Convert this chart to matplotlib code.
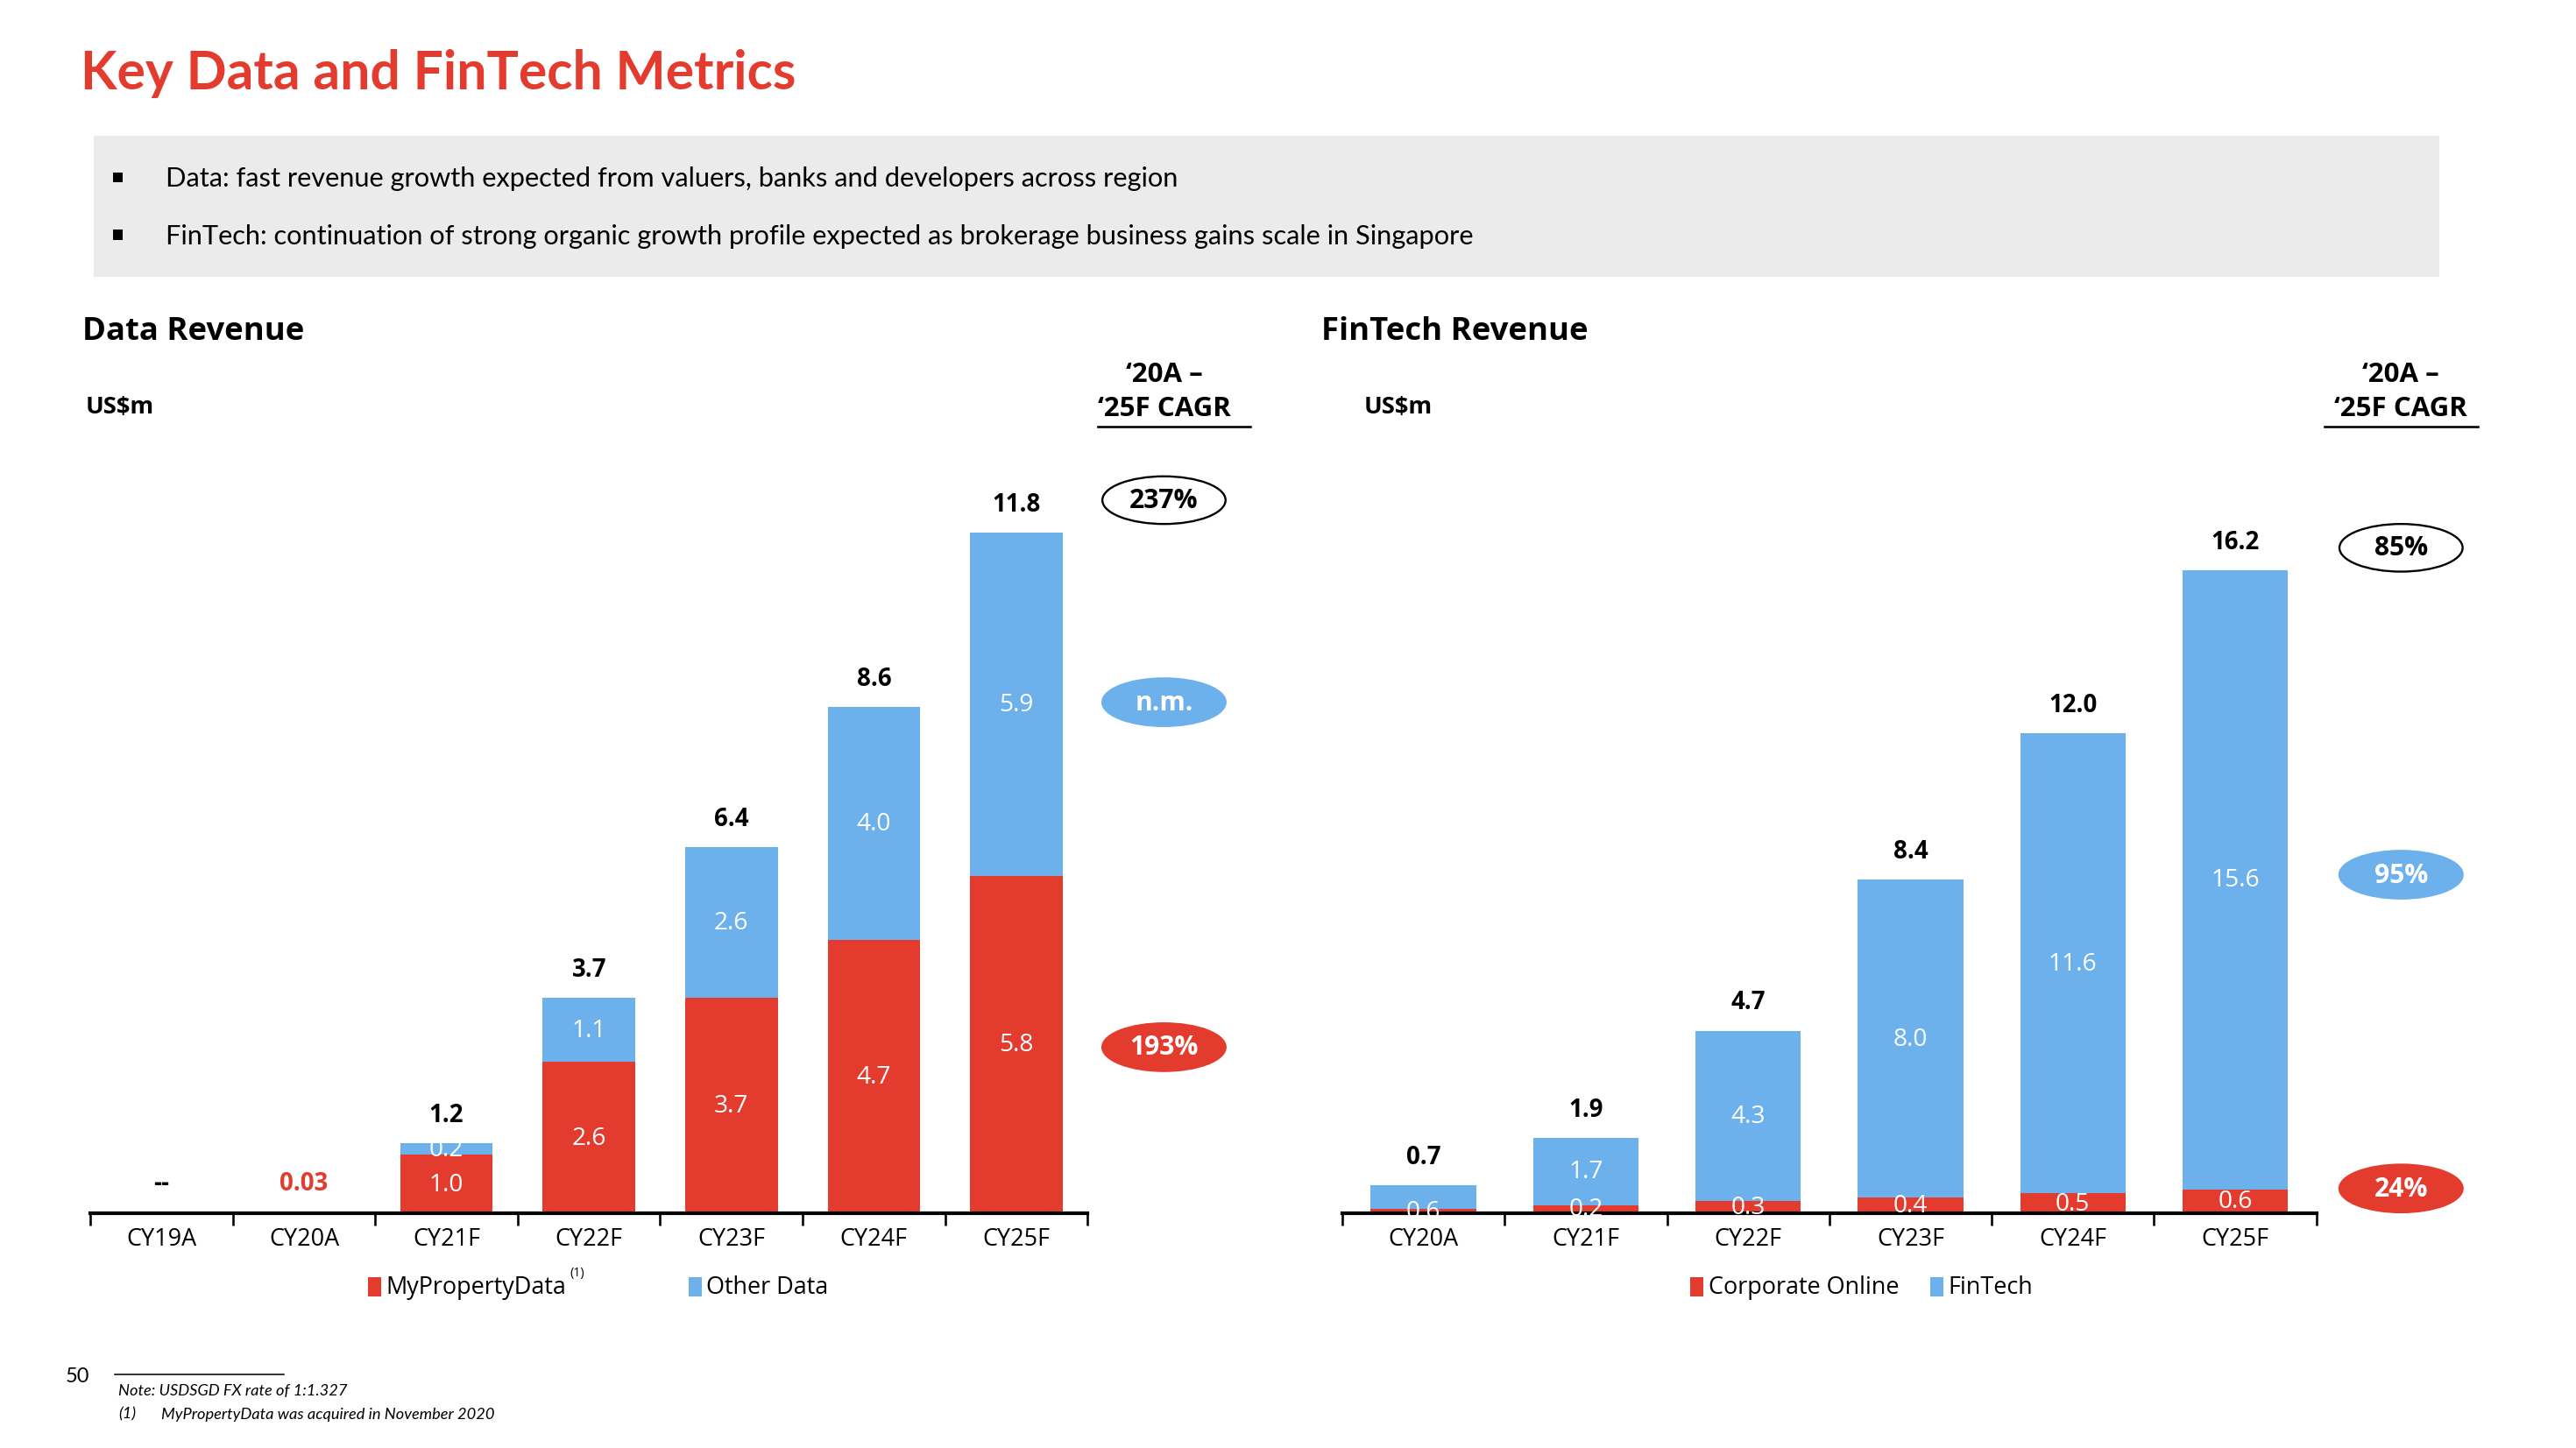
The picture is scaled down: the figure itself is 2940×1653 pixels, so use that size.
import matplotlib
matplotlib.use("Agg")
import matplotlib.pyplot as plt
from matplotlib.patches import Ellipse, Rectangle
import numpy as np

# ---------------- data ----------------
data_cats = ["CY19A", "CY20A", "CY21F", "CY22F", "CY23F", "CY24F", "CY25F"]
mypropertydata = [0.0, 0.03, 1.0, 2.6, 3.7, 4.7, 5.8]
other_data = [0.0, 0.0, 0.2, 1.1, 2.6, 4.0, 5.9]
data_totals = [None, None, 1.2, 3.7, 6.4, 8.6, 11.8]
data_cagr = ["237%", "n.m.", "193%"]

fin_cats = ["CY20A", "CY21F", "CY22F", "CY23F", "CY24F", "CY25F"]
corporate_online = [0.1, 0.2, 0.3, 0.4, 0.5, 0.6]
fintech = [0.6, 1.7, 4.3, 8.0, 11.6, 15.6]
fin_totals = [0.7, 1.9, 4.7, 8.4, 12.0, 16.2]
fin_cagr = ["85%", "95%", "24%"]

RED = "#E43B2F"
BLUE = "#6CB0EC"
GREY = "#EBEBEB"

W, H = 1568.0, 882.0
fig = plt.figure(figsize=(15.68, 8.8213), dpi=187.5)
fig.patch.set_facecolor("white")

BODY = ["Lato", "DejaVu Sans"]
CHART = ["Open Sans", "DejaVu Sans"]


def T(x, y, s, **kw):
    kw.setdefault("va", "center")
    return fig.text(x / W, 1 - y / H, s, **kw)


def fx(x):
    return x / W


def fy(y):
    return 1 - y / H


# ---------------- header ----------------
T(49, 45, "Key Data and FinTech Metrics", color=RED, fontsize=23.3,
  fontweight="bold", family=BODY, ha="left")

fig.patches.append(Rectangle((fx(57), fy(169)), (1485 - 57) / W, (169 - 83) / H,
                             transform=fig.transFigure, facecolor=GREY,
                             edgecolor="none", zorder=0))
bullets = ["Data: fast revenue growth expected from valuers, banks and developers across region",
           "FinTech: continuation of strong organic growth profile expected as brokerage business gains scale in Singapore"]
for yy, s in zip([109, 144], bullets):
    fig.patches.append(Rectangle((fx(69), fy(yy + 2.5)), 5.5 / W, 6 / H,
                                 transform=fig.transFigure, facecolor="black",
                                 edgecolor="none", zorder=2))
    T(101, yy, s, fontsize=11.8, family=BODY, ha="left", color="black")


# ---------------- chart helper ----------------
def draw_chart(left, right, top, base, cats, bottom_vals, top_vals, totals, ymax,
               small_rule):
    ax = fig.add_axes([fx(left), fy(base), (right - left) / W, (base - top) / H])
    n = len(cats)
    x = np.arange(n)
    ax.bar(x, bottom_vals, width=0.65, color=RED, zorder=2)
    ax.bar(x, top_vals, width=0.65, bottom=bottom_vals, color=BLUE, zorder=2)
    ax.set_xlim(-0.5, n - 0.5)
    ax.set_ylim(0, ymax)
    for s in ["top", "right", "left"]:
        ax.spines[s].set_visible(False)
    ax.spines["bottom"].set_linewidth(1.6)
    ax.spines["bottom"].set_zorder(3)
    ax.set_yticks([])
    ax.set_xticks(np.arange(n + 1) - 0.5)
    ax.set_xticklabels([])
    ax.tick_params(axis="x", which="major", length=5.5, width=1.0, direction="out")
    ax.set_xticks(x, minor=True)
    ax.set_xticklabels(cats, minor=True, fontsize=10.4, family=CHART)
    ax.tick_params(axis="x", which="minor", length=0, pad=6)
    ax.patch.set_alpha(0)
    for i in range(n):
        b, t = bottom_vals[i], top_vals[i]
        if t > 0:
            if t < 1.0 and small_rule:
                ax.text(i, b / 2, f"{t:.1f}", color="white", ha="center", va="center",
                        fontsize=10.8, family=CHART, zorder=4)
            else:
                ax.text(i, b + t / 2, f"{t:.1f}", color="white", ha="center", va="center",
                        fontsize=10.8, family=CHART, zorder=4)
        if b >= 0.15 and not (small_rule and t < 1.0):
            ax.text(i, b / 2, f"{b:.1f}", color="white", ha="center", va="center",
                    fontsize=10.8, family=CHART, zorder=4)
        if totals[i] is not None:
            ax.annotate(f"{totals[i]:.1f}", (i, b + t), xytext=(0, 12.5),
                        textcoords="offset points", ha="center", va="center",
                        fontsize=10.6, fontweight="bold", family=CHART)
    return ax


ax1 = draw_chart(55, 662, 290, 739, data_cats, mypropertydata, other_data,
                 data_totals, 449 / 35.4, small_rule=False)
# CY19A and CY20A labels
ax1.annotate("--", (0, 0), xytext=(0, 13), textcoords="offset points",
             ha="center", va="center", fontsize=10.6, fontweight="bold", family=CHART)
ax1.annotate(f"{mypropertydata[1]:.2f}", (1, 0), xytext=(0, 13), textcoords="offset points",
             ha="center", va="center", fontsize=10.6, fontweight="bold", family=CHART,
             color=RED)

ax2 = draw_chart(817, 1410, 290, 739, fin_cats, corporate_online, fintech,
                 fin_totals, 449 / 24.15, small_rule=True)

# ---------------- section titles ----------------
T(50, 202, "Data Revenue", fontsize=14, fontweight="bold", family=CHART, ha="left")
T(804, 202, "FinTech Revenue", fontsize=14, fontweight="bold", family=CHART, ha="left")
T(52, 248, "US$m", fontsize=10.5, fontweight="bold", family=CHART, ha="left")
T(830, 248, "US$m", fontsize=10.5, fontweight="bold", family=CHART, ha="left")


# CAGR column
def cagr_block(cx, x0, x1, vals, ys):
    T(cx, 228, "\u201820A \u2013", fontsize=12, fontweight="bold", family=CHART, ha="center")
    T(cx, 249, "\u201825F CAGR", fontsize=12, fontweight="bold", family=CHART, ha="center")
    fig.lines.append(plt.Line2D([fx(x0), fx(x1)], [fy(260), fy(260)],
                                transform=fig.transFigure, color="black", lw=1.0))
    styles = [("white", "black", "black"), (BLUE, BLUE, "white"), (RED, RED, "white")]
    for v, yy, (fc, ec, tc) in zip(vals, ys, styles):
        e = Ellipse((fx(cx), fy(yy)), 75 / W, 29 / H, transform=fig.transFigure,
                    facecolor=fc, edgecolor=ec, lw=0.9, zorder=3)
        fig.patches.append(e)
        T(cx, yy, v, fontsize=11.5, fontweight="bold", family=CHART, ha="center",
          color=tc, zorder=4)


cagr_block(708.5, 668, 761, data_cagr, [305, 428, 638])
cagr_block(1461.5, 1415, 1508, fin_cagr, [334, 533, 724])


# ---------------- legends ----------------
def legend_item(x, y, color, label):
    fig.patches.append(Rectangle((fx(x), fy(y + 6)), 8 / W, 12 / H,
                                 transform=fig.transFigure, facecolor=color,
                                 edgecolor="none"))
    return T(x + 11, y, label, fontsize=10.4, family=CHART, ha="left")


legend_item(224, 784, RED, "MyPropertyData")
T(347, 775, "(1)", fontsize=5.5, family=CHART, ha="left")
legend_item(419, 784, BLUE, "Other Data")
legend_item(1029, 784, RED, "Corporate Online")
legend_item(1175, 784, BLUE, "FinTech")

# ---------------- footer ----------------
T(40, 838, "50", fontsize=9, family=BODY, ha="left")
fig.lines.append(plt.Line2D([fx(70), fx(173)], [fy(837), fy(837)],
                            transform=fig.transFigure, color="black", lw=0.6))
T(72, 847, "Note: USDSGD FX rate of 1:1.327", fontsize=7.0, style="italic",
  family=BODY, ha="left")
T(72, 861, "(1)", fontsize=7.0, style="italic", family=BODY, ha="left")
T(98, 861, "MyPropertyData was acquired in November 2020", fontsize=7.0,
  style="italic", family=BODY, ha="left")

fig.savefig("out.png", dpi=187.5, facecolor="white")
